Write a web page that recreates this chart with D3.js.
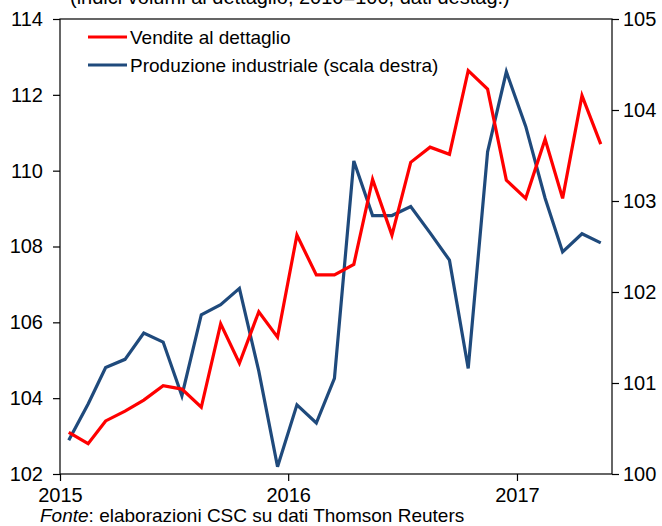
<!DOCTYPE html>
<html>
<head>
<meta charset="utf-8">
<script src="https://cdn.jsdelivr.net/npm/d3@7"></script>
<style>
  body { margin: 0; background: #fff; }
  text { font-family: "Liberation Sans", Arial, sans-serif; fill: #000; }
</style>
</head>
<body>
<div id="chart"></div>
<script>
// monthly data, Jan 2015 - May 2017
const months = d3.range(29).map(i => new Date(2015, i, 15));
const retail = [103.1, 102.8, 103.4, 103.66, 103.95, 104.33, 104.24, 103.76, 105.96, 104.92,
  106.28, 105.61, 108.3, 107.25, 107.25, 107.53, 109.77, 108.3, 110.22, 110.62,
  110.43, 112.64, 112.15, 109.75, 109.27, 110.83, 109.27, 111.98, 110.7];
const industry = [100.37, 100.77, 101.17, 101.26, 101.55, 101.45, 100.86, 101.75, 101.86, 102.04,
  101.13, 100.08, 100.76, 100.56, 101.05, 103.44, 102.84, 102.84, 102.94, 102.65,
  102.35, 101.16, 103.54, 104.42, 103.82, 103.03, 102.44, 102.64, 102.54];
const leftTicks = [102, 104, 106, 108, 110, 112, 114];
const rightTicks = [100, 101, 102, 103, 104, 105];
const seriesNames = ["Vendite al dettaglio", "Produzione industriale (scala destra)"];
const seriesColors = ["#ff0000", "#1f4a7c"];

const width = 662, height = 526;
const margin = { top: 19, right: 50, bottom: 52, left: 60 };

const svg = d3.select("#chart").append("svg")
  .attr("width", width)
  .attr("height", height);

const x = d3.scaleTime()
  .domain([new Date(2015, 0, 1), new Date(2017, 5, 2)])
  .range([margin.left, width - margin.right]);
const yL = d3.scaleLinear().domain([102, 114]).range([height - margin.bottom, margin.top]);
const yR = d3.scaleLinear().domain([100, 105]).range([height - margin.bottom, margin.top]);

// subtitle, cut off by the top edge
svg.append("text")
  .attr("x", 70).attr("y", 4)
  .style("font-size", "20px")
  .text("(indici volumi al dettaglio, 2010=100, dati destag.)");

// frame
svg.append("rect")
  .attr("x", margin.left).attr("y", margin.top)
  .attr("width", width - margin.left - margin.right)
  .attr("height", height - margin.top - margin.bottom)
  .attr("fill", "none").attr("stroke", "#000").attr("stroke-width", 1.2);

const fmt = d3.format("d");
const axL = svg.append("g")
  .attr("transform", `translate(${margin.left},0)`)
  .call(d3.axisLeft(yL).tickValues(leftTicks).tickFormat(fmt).tickSize(7).tickPadding(10));
const axR = svg.append("g")
  .attr("transform", `translate(${width - margin.right},0)`)
  .call(d3.axisRight(yR).tickValues(rightTicks).tickFormat(fmt).tickSize(7).tickPadding(4));
const axX = svg.append("g")
  .attr("transform", `translate(0,${height - margin.bottom})`)
  .call(d3.axisBottom(x).ticks(d3.timeYear.every(1)).tickFormat(d3.timeFormat("%Y")).tickSize(7).tickPadding(7));

[axL, axR, axX].forEach(g => {
  g.select(".domain").remove();
  g.selectAll("line").attr("stroke", "#000").attr("stroke-width", 1.2);
  g.selectAll("text").style("font-size", "20px").attr("fill", "#000");
});

const lineL = d3.line().x((d, i) => x(months[i])).y(d => yL(d));
const lineR = d3.line().x((d, i) => x(months[i])).y(d => yR(d));

svg.append("path").datum(industry)
  .attr("d", lineR)
  .attr("fill", "none").attr("stroke", seriesColors[1])
  .attr("stroke-width", 3.2);

svg.append("path").datum(retail)
  .attr("d", lineL)
  .attr("fill", "none").attr("stroke", seriesColors[0])
  .attr("stroke-width", 3.2);

// legend
const legend = svg.append("g");
seriesNames.forEach((name, i) => {
  const yy = 37 + i * 28;
  legend.append("line")
    .attr("x1", 88).attr("x2", 127).attr("y1", yy).attr("y2", yy)
    .attr("stroke", seriesColors[i]).attr("stroke-width", 3.2);
  legend.append("text")
    .attr("x", 130).attr("y", yy + 7)
    .style("font-size", "19px")
    .text(name);
});

// source note
const note = svg.append("text").attr("x", 40).attr("y", 522).style("font-size", "19px");
note.append("tspan").style("font-style", "italic").text("Fonte");
note.append("tspan").text(": elaborazioni CSC su dati Thomson Reuters");
</script>
</body>
</html>
